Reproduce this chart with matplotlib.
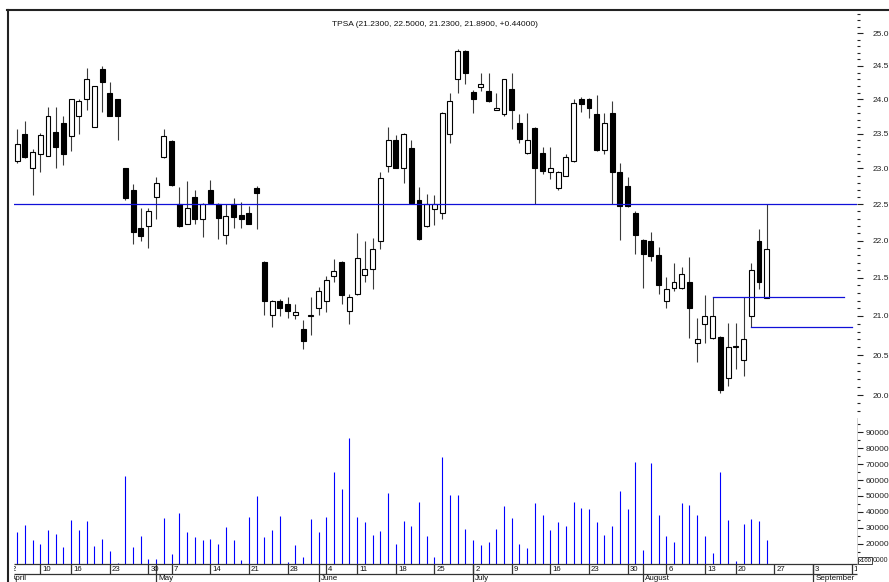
import numpy as np
import pandas as pd
import matplotlib
matplotlib.use('Agg')
import matplotlib.pyplot as plt
from matplotlib.lines import Line2D
from matplotlib.ticker import FixedLocator, FixedFormatter, NullFormatter

plt.rcParams['font.family'] = ['Liberation Sans', 'DejaVu Sans']

# ---------------- data ----------------
title = "TPSA (21.2300, 22.5000, 21.2300, 21.8900, +0.44000)"
holidays = ['2012-04-06', '2012-04-09', '2012-05-01', '2012-05-03',
            '2012-06-07', '2012-08-15']
calendar = pd.bdate_range('2012-04-02', '2012-09-14', freq='C', holidays=holidays)
first_date = '2012-04-03'
last_date = '2012-08-24'

open_ = [23.10, 23.50, 23.01, 23.21, 23.18, 23.52, 23.65, 23.47, 23.76, 24.01,
         23.60, 24.45, 24.10, 24.00, 23.00, 22.70, 22.17, 22.20, 22.60, 23.16,
         23.39, 22.50, 22.23, 22.60, 22.30, 22.70, 22.50, 22.07, 22.50, 22.35,
         22.38, 22.72, 21.71, 21.01, 21.20, 21.15, 21.01, 20.83, 21.00, 21.11,
         21.20, 21.53, 21.71, 21.06, 21.29, 21.54, 21.62, 22.00, 23.03, 23.40,
         23.00, 23.29, 22.56, 22.20, 22.43, 22.38, 23.50, 24.30, 24.72, 24.11,
         24.19, 24.12, 23.85, 23.78, 24.16, 23.65, 23.22, 23.58, 23.22, 22.95,
         22.72, 22.90, 23.10, 24.00, 24.00, 23.78, 23.26, 23.80, 22.95, 22.75,
         22.37, 22.01, 22.00, 21.81, 21.20, 21.36, 21.36, 21.45, 20.65, 20.90,
         20.72, 20.73, 20.21, 20.60, 20.44, 21.00, 22.00, 21.23]
high = [23.57, 23.68, 23.28, 23.51, 23.89, 23.89, 23.75, 24.01, 24.00, 24.47,
        24.20, 24.50, 24.26, 24.01, 23.01, 22.78, 22.44, 22.44, 22.88, 23.56,
        23.40, 22.74, 22.82, 22.70, 22.51, 22.84, 22.51, 22.50, 22.58, 22.53,
        22.48, 22.75, 21.72, 21.21, 21.22, 21.25, 21.16, 20.95, 21.25, 21.38,
        21.52, 21.75, 21.72, 21.29, 22.10, 21.99, 22.04, 22.95, 23.60, 23.48,
        23.51, 23.40, 22.74, 22.64, 22.62, 23.81, 24.10, 24.75, 24.74, 24.14,
        24.40, 24.40, 24.10, 24.31, 24.40, 23.78, 23.80, 23.59, 23.30, 23.30,
        22.97, 23.21, 24.00, 24.04, 24.02, 24.06, 23.80, 23.97, 23.08, 22.88,
        22.40, 22.02, 22.11, 21.91, 21.51, 21.70, 21.65, 21.78, 20.97, 21.27,
        21.25, 20.74, 20.91, 20.91, 21.25, 21.70, 22.16, 22.50]
low = [23.08, 23.15, 22.63, 22.95, 23.17, 23.00, 23.05, 23.25, 23.50, 23.84,
       23.59, 23.82, 23.75, 23.41, 22.56, 21.95, 22.00, 21.90, 22.30, 23.15,
       22.75, 22.19, 22.22, 22.23, 22.05, 22.50, 22.02, 21.95, 22.17, 22.17,
       22.22, 22.16, 21.01, 20.86, 21.00, 20.97, 20.96, 20.58, 20.75, 21.01,
       21.05, 21.44, 21.15, 20.90, 21.28, 21.44, 21.35, 21.89, 22.95, 23.00,
       22.79, 22.50, 22.01, 22.19, 22.21, 22.30, 23.36, 24.10, 24.23, 23.80,
       24.12, 23.96, 23.84, 23.75, 23.56, 23.36, 23.21, 22.50, 22.92, 22.85,
       22.70, 22.89, 23.09, 23.81, 23.73, 23.25, 23.21, 22.50, 22.01, 22.46,
       21.82, 21.36, 21.73, 21.29, 21.11, 21.33, 21.35, 20.72, 20.41, 20.65,
       20.71, 20.03, 20.11, 20.33, 20.24, 20.86, 21.35, 21.23]
close = [23.35, 23.16, 23.24, 23.48, 23.75, 23.31, 23.21, 24.00, 23.98, 24.30,
         24.20, 24.26, 23.76, 23.76, 22.58, 22.11, 22.06, 22.40, 22.80, 23.46,
         22.76, 22.20, 22.45, 22.30, 22.50, 22.51, 22.31, 22.33, 22.32, 22.30,
         22.23, 22.65, 21.20, 21.19, 21.11, 21.06, 21.05, 20.68, 21.01, 21.33,
         21.47, 21.59, 21.28, 21.25, 21.76, 21.62, 21.89, 22.86, 23.40, 23.00,
         23.50, 22.51, 22.02, 22.50, 22.50, 23.80, 23.98, 24.73, 24.40, 24.00,
         24.23, 23.97, 23.88, 24.30, 23.85, 23.42, 23.41, 23.00, 22.97, 23.00,
         22.95, 23.16, 23.94, 23.93, 23.87, 23.26, 23.65, 22.95, 22.48, 22.47,
         22.07, 21.82, 21.79, 21.41, 21.35, 21.44, 21.55, 21.11, 20.70, 21.00,
         21.00, 20.06, 20.60, 20.62, 20.71, 21.60, 21.45, 21.89]
volume = [27500, 31700, 22300, 19800, 28800, 26000, 18100, 34900, 28800, 34200,
          18500, 22900, 15200, 7600, 62700, 17900, 24600, 10100, 10100, 36100,
          13500, 39000, 27500, 24200, 22100, 22900, 19800, 30400, 22300, 9700,
          36700, 49900, 24200, 28800, 37200, 8400, 19100, 11800, 35300, 27500,
          36700, 65200, 54300, 86200, 36700, 33400, 25400, 27900, 52000, 19500,
          34200, 31300, 46200, 25000, 11600, 74500, 50400, 50800, 29200, 22300,
          19300, 21000, 29200, 43700, 35900, 19500, 17500, 45300, 37800, 28400,
          33400, 31300, 46200, 42400, 41600, 33400, 25400, 31300, 53100, 41600,
          71500, 16000, 70700, 38000, 24600, 21200, 45800, 44100, 37800, 25000,
          14300, 65200, 34900, 9300, 32600, 35500, 34200, 22100]

level_line = 22.5
resist_line = ('2012-08-14', '2012-09-07', 21.25)
support_line = ('2012-08-22', '2012-09-10', 20.86)
price_ticks = [20.0, 20.5, 21.0, 21.5, 22.0, 22.5, 23.0, 23.5, 24.0, 24.5, 25.0]
vol_ticks = [10000, 20000, 30000, 40000, 50000, 60000, 70000, 80000, 90000]
month_names = ['April', 'May', 'June', 'July', 'August', 'September']

# ---------------- layout ----------------
W, H = 889, 582
fig = plt.figure(figsize=(W / 100, H / 100), dpi=100)
fig.patch.set_facecolor('white')

L, R = 14, 857
P_TOP, P_BOT = 10, 418
V_BOT = 564.3

def box(x0, y0, x1, y1):
    return [x0 / W, 1 - y1 / H, (x1 - x0) / W, (y1 - y0) / H]

ax1 = fig.add_axes(box(L, P_TOP, R, P_BOT))
ax2 = fig.add_axes(box(L, P_BOT, R, V_BOT))
ax3 = fig.add_axes(box(L, 563, R, H))

pos = {d: i for i, d in enumerate(calendar)}
cdates = calendar[(calendar >= first_date) & (calendar <= last_date)]
x = np.array([pos[d] for d in cdates], dtype=float)
o = np.array(open_); h = np.array(high); lo = np.array(low); c = np.array(close)
v = np.array(volume)

xmin, xmax = 0.597, 109.68
for a in (ax1, ax2, ax3):
    a.set_xlim(xmin, xmax)
    a.set_facecolor('none')

# ---------------- price panel ----------------
ax1.set_yscale('log')
ax1.set_ylim(19.72, 25.36)
up = c >= o
ax1.vlines(x, lo, h, color='#3a3a3a', lw=0.8, zorder=2)
bottom = np.minimum(o, c)
height = np.maximum(np.abs(c - o), 0.004)
ax1.bar(x, height, bottom=bottom, width=0.64,
        color=np.where(up, 'white', 'black'), edgecolor='black',
        linewidth=0.8, zorder=3)

blue = '#1010d8'
ax1.axhline(level_line, color=blue, lw=0.9, zorder=4)
for (d0, d1, lv) in (resist_line, support_line):
    ax1.plot([pos[pd.Timestamp(d0)], pos[pd.Timestamp(d1)]], [lv, lv],
             color=blue, lw=0.9, zorder=4)

ax1.yaxis.set_major_locator(FixedLocator(price_ticks))
ax1.yaxis.set_major_formatter(FixedFormatter(['%.1f' % t for t in price_ticks]))
minor_p = [round(t, 1) for t in np.arange(19.8, 25.35, 0.1)
           if round(t, 1) not in price_ticks]
ax1.yaxis.set_minor_locator(FixedLocator(minor_p))
ax1.yaxis.set_minor_formatter(NullFormatter())
ax1.tick_params(axis='y', which='both', left=False, labelleft=False,
                right=True, labelright=True, colors='#222222', width=0.8)
ax1.tick_params(axis='y', which='major', length=4, pad=7.5, labelsize=6)
ax1.tick_params(axis='y', which='minor', length=2.2)
ax1.set_xticks([])
for s in ax1.spines.values():
    s.set_visible(False)

# ---------------- volume panel ----------------
ax2.set_ylim(7000, 99000)
ax2.vlines(x, 7000, v, color='#0000ff', lw=0.8)
ax2.yaxis.set_major_locator(FixedLocator(vol_ticks))
# the lowest label is partly hidden by the "x100" multiplier box: show its tail
vol_labels = [str(t) for t in vol_ticks]
vol_labels[0] = ''
ax2.yaxis.set_major_formatter(FixedFormatter(vol_labels))
ax2.yaxis.set_minor_locator(FixedLocator([t + 5000 for t in vol_ticks]))
ax2.tick_params(axis='y', which='both', left=False, labelleft=False,
                right=True, labelright=True, colors='#222222', width=0.8)
ax2.tick_params(axis='y', which='major', length=4, pad=2.5, labelsize=6)
ax2.tick_params(axis='y', which='minor', length=2.2)
ax2.set_xticks([])
for k, s in ax2.spines.items():
    s.set_visible(k == 'right')
ax2.spines['right'].set_color('#cccccc')
ax2.spines['right'].set_linewidth(0.6)
fig.text(858.5 / W, 1 - 560.3 / H, 'x100', fontsize=4.2, ha='left', va='center',
         bbox=dict(boxstyle='square,pad=0.12', fc='white', ec='#222222', lw=0.6),
         zorder=10)
fig.text(872.5 / W, 1 - 560.3 / H, str(vol_ticks[0])[1:], fontsize=5.0,
         ha='left', va='center', color='#222222')

# ---------------- date axis ----------------
ax3.set_ylim(H, 563)
ax3.axis('off')
ax3.hlines([V_BOT, 574.3], xmin, xmax, color='#333333', lw=0.9, clip_on=False)
week_first = []
prev_week = None
for i, d in enumerate(calendar):
    wk = d.isocalendar()[1]
    if wk != prev_week:
        week_first.append(i)
        prev_week = wk
for i in week_first:
    ax3.vlines(i, V_BOT, 574.3, color='#333333', lw=0.9)
    ax3.text(i + 0.27, 569.6, str(calendar[i].day), fontsize=5.6, ha='left',
             va='center', color='#111111', clip_on=True)
month_first = []
prev_m = None
for i, d in enumerate(calendar):
    if d.month != prev_m:
        month_first.append(i)
        prev_m = d.month
for i, name in zip(month_first, month_names):
    ax3.vlines(i, V_BOT, H, color='#333333', lw=0.9)
    ax3.text(i + 0.27, 575.2, name, fontsize=5.8, ha='left', va='top',
             color='#111111', clip_on=True)

# ---------------- frame & title ----------------
fig.add_artist(Line2D([7.5 / W, 7.5 / W], [1 - 9.5 / H, 0], color='#222222', lw=1.5))
fig.add_artist(Line2D([7 / W, 1], [1 - 10 / H, 1 - 10 / H], color='#222222', lw=1.5))
fig.text(435 / W, 1 - 25 / H, title, fontsize=6, ha='center', va='center',
         color='#111111')

fig.savefig('out.png', dpi=100)
